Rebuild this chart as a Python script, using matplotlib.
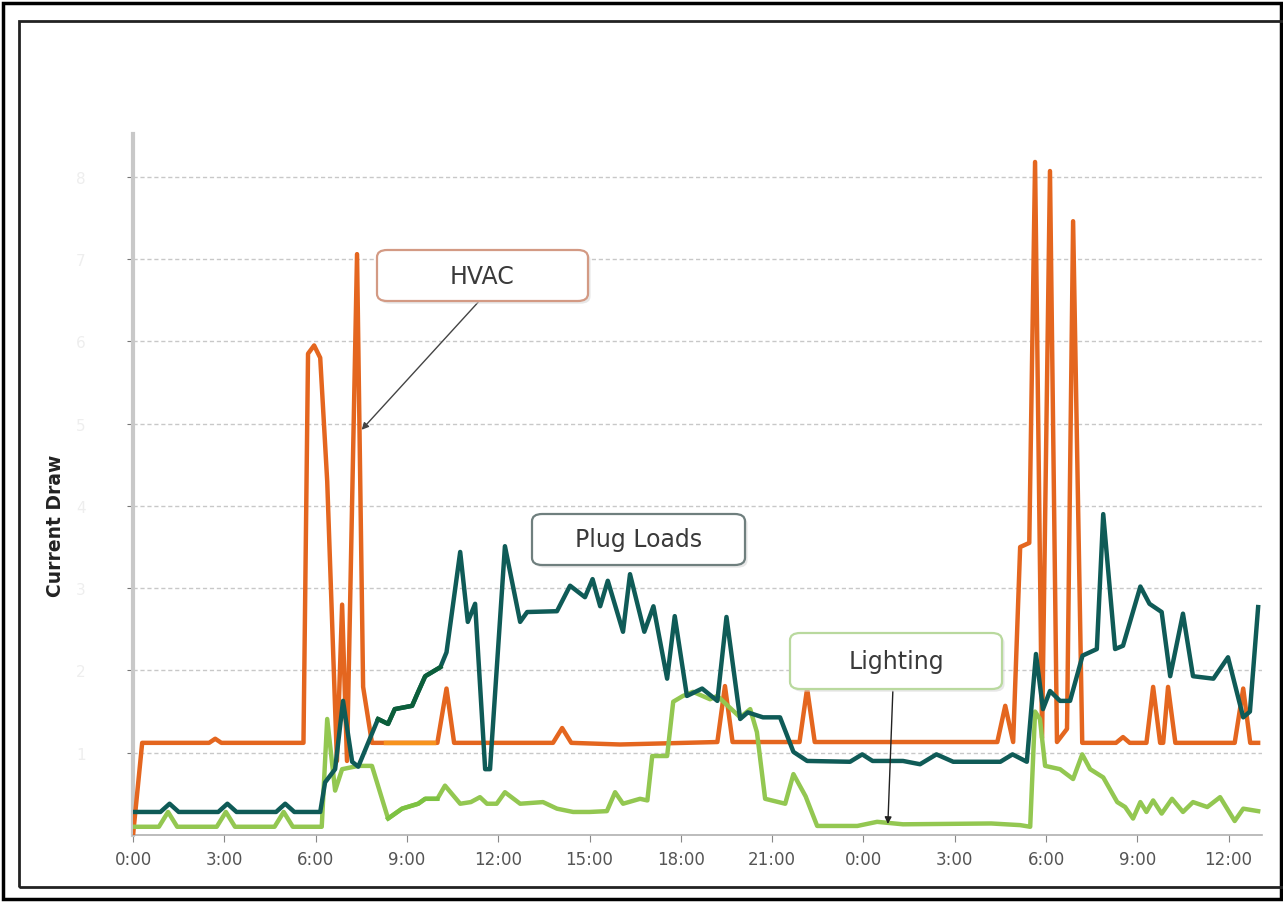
import matplotlib
matplotlib.use("Agg")
from matplotlib import pyplot as plt
from matplotlib.patches import FancyBboxPatch, Rectangle

# %% Data (hours since 0:00 of day 1, current draw in grid units)
hvac_h = [0, 0.3, 2.5, 2.7, 2.9, 5.6, 5.75, 5.95, 6.15, 6.38, 6.7, 6.87, 7.03, 7.36, 7.56, 7.85,
          10.0, 10.3, 10.55, 13.8, 14.1, 14.4, 16.0, 19.2, 19.45, 19.7, 21.9, 22.15, 22.4,
          28.4, 28.66, 28.92, 29.15, 29.45, 29.64, 29.87, 30.13, 30.36, 30.69, 30.89, 31.19,
          32.3, 32.53, 32.75, 33.3, 33.52, 33.75, 33.85, 34.01, 34.25, 36.2, 36.48, 36.71, 36.97]
hvac_v = [0, 1.12, 1.12, 1.17, 1.12, 1.12, 5.85, 5.95, 5.8, 4.3, 0.9, 2.8, 0.9, 7.06, 1.8, 1.12,
          1.12, 1.78, 1.12, 1.12, 1.3, 1.12, 1.1, 1.13, 1.81, 1.13, 1.13, 1.78, 1.13,
          1.13, 1.57, 1.13, 3.5, 3.55, 8.18, 1.18, 8.07, 1.13, 1.29, 7.46, 1.12,
          1.12, 1.19, 1.12, 1.12, 1.8, 1.12, 1.12, 1.8, 1.12, 1.12, 1.78, 1.12, 1.12]

plug_h = [0.05, 0.9, 1.2, 1.5, 2.8, 3.1, 3.4, 4.7, 5.0, 5.3, 6.15, 6.31, 6.64, 6.9, 7.2, 7.4,
          8.05, 8.38, 8.6, 9.17, 9.37, 9.6, 10.1, 10.3, 10.75, 11.0, 11.24, 11.57, 11.73,
          12.22, 12.72, 12.95, 13.93, 14.36, 14.85, 15.1, 15.35, 15.6, 16.1, 16.33, 16.8,
          17.1, 17.55, 17.8, 18.2, 18.7, 19.2, 19.5, 19.95, 20.2, 20.7, 21.26, 21.7, 22.15,
          23.56, 23.96, 24.3, 25.3, 25.86, 26.4, 26.95, 28.5, 28.9, 29.37, 29.67, 29.9,
          30.13, 30.46, 30.79, 31.2, 31.67, 31.88, 32.27, 32.53, 33.1, 33.4, 33.8, 34.08,
          34.5, 34.83, 35.5, 35.98, 36.48, 36.7, 36.97]
plug_v = [0.28, 0.28, 0.38, 0.28, 0.28, 0.38, 0.28, 0.28, 0.38, 0.28, 0.28, 0.64, 0.8, 1.63,
          0.89, 0.83, 1.41, 1.35, 1.53, 1.57, 1.74, 1.93, 2.04, 2.22, 3.44, 2.59, 2.81, 0.8,
          0.8, 3.51, 2.59, 2.71, 2.72, 3.03, 2.89, 3.11, 2.78, 3.09, 2.47, 3.17, 2.47, 2.78,
          1.9, 2.66, 1.69, 1.78, 1.63, 2.65, 1.41, 1.49, 1.43, 1.43, 1.01, 0.9, 0.89, 0.98,
          0.9, 0.9, 0.86, 0.98, 0.89, 0.89, 0.98, 0.89, 2.2, 1.53, 1.75, 1.63, 1.63, 2.18,
          2.26, 3.9, 2.26, 2.3, 3.02, 2.81, 2.71, 1.93, 2.69, 1.93, 1.9, 2.16, 1.43, 1.5, 2.77]

light_h = [0.05, 0.85, 1.15, 1.45, 2.75, 3.05, 3.35, 4.65, 4.95, 5.25, 6.2, 6.38, 6.64, 6.87,
           7.4, 7.85, 8.38, 8.84, 9.37, 9.6, 10.0, 10.25, 10.75, 11.1, 11.4, 11.63, 11.95,
           12.22, 12.72, 13.47, 13.93, 14.46, 15.0, 15.57, 15.84, 16.1, 16.66, 16.9, 17.06,
           17.55, 17.75, 18.07, 18.4, 18.96, 19.2, 19.95, 20.28, 20.5, 20.77, 21.43, 21.7,
           22.1, 22.48, 23.8, 24.45, 25.3, 28.2, 29.15, 29.48, 29.64, 29.8, 29.97, 30.46,
           30.89, 31.19, 31.45, 31.88, 32.34, 32.6, 32.86, 33.1, 33.3, 33.52, 33.8, 34.14,
           34.5, 34.83, 35.3, 35.72, 36.2, 36.48, 36.97]
light_v = [0.1, 0.1, 0.28, 0.1, 0.1, 0.28, 0.1, 0.1, 0.28, 0.1, 0.1, 1.41, 0.54, 0.8,
           0.84, 0.84, 0.2, 0.32, 0.38, 0.44, 0.44, 0.6, 0.38, 0.4, 0.46, 0.38, 0.38,
           0.52, 0.38, 0.4, 0.32, 0.28, 0.28, 0.29, 0.52, 0.38, 0.44, 0.42, 0.96,
           0.96, 1.62, 1.69, 1.74, 1.65, 1.69, 1.43, 1.53, 1.25, 0.44, 0.38, 0.74,
           0.47, 0.11, 0.11, 0.16, 0.13, 0.14, 0.12, 0.1, 1.5, 1.41, 0.84, 0.8,
           0.68, 0.98, 0.8, 0.7, 0.4, 0.34, 0.2, 0.4, 0.28, 0.42, 0.26, 0.44,
           0.28, 0.4, 0.34, 0.46, 0.17, 0.32, 0.29]

xtick_hours = list(range(0, 37, 3))
xtick_labels = ["%d:00" % (h % 24) for h in xtick_hours]
ytick_vals = list(range(1, 9))
ytick_labels = [str(v) for v in ytick_vals]

# %% Figure
c_hvac = "#e4661f"
c_plug = "#0f5b57"
c_light = "#93c751"

fig = plt.figure(figsize=(12.83, 9.03), dpi=100)
ax = fig.add_axes([0.1037, 0.0742, 0.88, 0.7763])

ax.plot(hvac_h, hvac_v, color=c_hvac, lw=3.2, solid_joinstyle="round", zorder=3)
ax.plot(light_h, light_v, color=c_light, lw=3.2, solid_joinstyle="round", zorder=4)
ax.plot(plug_h, plug_v, color=c_plug, lw=3.2, solid_joinstyle="round", zorder=5)

# brighter retouched stretches between 8:00 and 10:00
def segment(hs, vs, lo, hi):
    pts = [(h, v) for h, v in zip(hs, vs) if lo <= h <= hi]
    return [p[0] for p in pts], [p[1] for p in pts]

ax.plot([8.3, 9.9], [1.12, 1.12], color="#f7931e", lw=3.2, zorder=3.5)
sx, sy = segment(light_h, light_v, 8.3, 10.0)
ax.plot(sx, sy, color="#7dc242", lw=3.2, zorder=4.5)
sx, sy = segment(plug_h, plug_v, 7.8, 10.1)
ax.plot(sx, sy, color="#0b5e3a", lw=3.2, zorder=5.5)

ax.set_xlim(0, 37.1)
ax.set_ylim(0, 8.52)
ax.set_xticks(xtick_hours)
ax.set_xticklabels(xtick_labels, color="#555555", fontsize=12)
ax.set_yticks(ytick_vals)
ax.set_yticklabels(ytick_labels, color="#eeeeee", fontsize=11)
ax.tick_params(axis="x", length=5, color="#888888", pad=6)
ax.tick_params(axis="y", length=4, color="#777777", pad=30)
ax.yaxis.grid(True, linestyle=(0, (3, 2)), color="#c8c8c8", lw=1)

for side in ["top", "right"]:
    ax.spines[side].set_visible(False)
ax.spines["left"].set_color("#c8c8c8")
ax.spines["left"].set_linewidth(3)
ax.spines["bottom"].set_color("#b0b0b0")
ax.spines["bottom"].set_linewidth(1.2)

ax.set_ylabel("Current Draw", fontsize=13.5, fontweight="bold", color="#222222")
ax.yaxis.set_label_coords(-0.060, 0.442)

# %% Callouts
def callout(x0, y0, x1, y1, text, edge):
    # pixel box -> figure fraction
    W, H = 1283, 903
    shadow = FancyBboxPatch((x0 / W + 0.002, 1 - y1 / H - 0.003), (x1 - x0) / W, (y1 - y0) / H,
                            boxstyle="round,pad=0,rounding_size=0.008", transform=fig.transFigure,
                            facecolor="#d8d8d8", edgecolor="none", alpha=0.6, zorder=8)
    box = FancyBboxPatch((x0 / W, 1 - y1 / H), (x1 - x0) / W, (y1 - y0) / H,
                         boxstyle="round,pad=0,rounding_size=0.008", transform=fig.transFigure,
                         facecolor="white", edgecolor=edge, lw=1.6, zorder=9)
    fig.patches.extend([shadow, box])
    fig.text((x0 + x1) / 2 / W, 1 - (y0 + y1) / 2 / H, text, ha="center", va="center",
             fontsize=17, color="#3a3a3a", zorder=10)

callout(377, 251, 588, 302, "HVAC", "#d39a84")
callout(532, 515, 745, 566, "Plug Loads", "#6f7f7e")
callout(790, 634, 1002, 690, "Lighting", "#b9d99e")

ax.annotate("", xy=(7.45, 4.9), xytext=(11.4, 6.5),
            arrowprops=dict(arrowstyle="-|>", color="#444444", lw=1, mutation_scale=10), zorder=7)
ax.annotate("", xy=(24.8, 0.1), xytext=(24.97, 1.78),
            arrowprops=dict(arrowstyle="-|>", color="#222222", lw=1, mutation_scale=10), zorder=7)

# %% Frames
fig.patches.append(Rectangle((3 / 1283, 1 - 900 / 903), 1278 / 1283, 896 / 903, transform=fig.transFigure,
                             fill=False, edgecolor="black", lw=2.5))
fig.patches.append(Rectangle((19 / 1283, 1 - 888 / 903), 1270 / 1283, 866 / 903, transform=fig.transFigure,
                             fill=False, edgecolor="#222222", lw=2))

fig.savefig("out.png", dpi=100)
plt.close(fig)
